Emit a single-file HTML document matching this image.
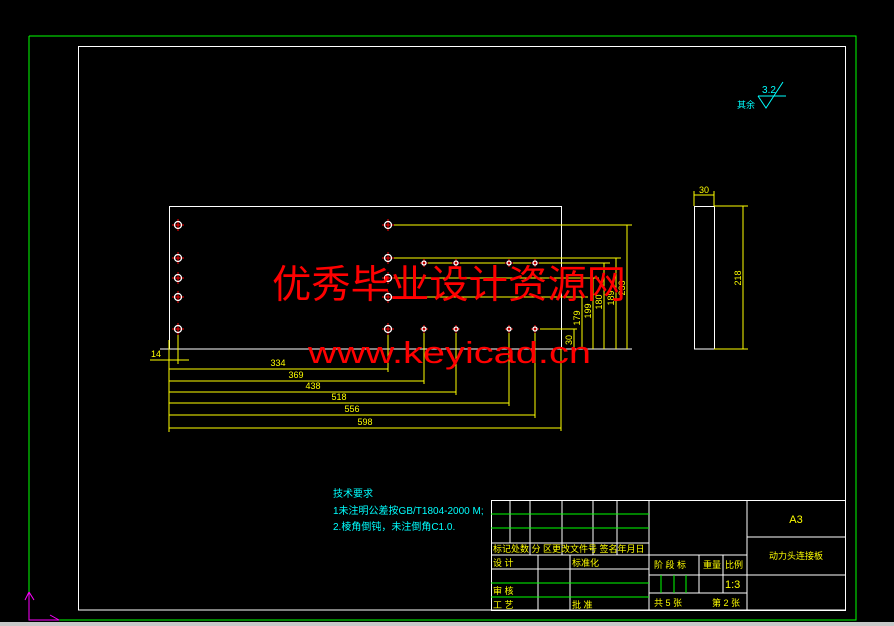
<!DOCTYPE html>
<html><head><meta charset="utf-8"><style>
html,body{margin:0;padding:0;background:#000;width:894px;height:626px;overflow:hidden}
svg{display:block}
text{font-family:"Liberation Sans","Noto Sans CJK SC",sans-serif}
</style></head><body>
<svg width="894" height="626" viewBox="0 0 894 626" xmlns="http://www.w3.org/2000/svg">
<rect x="0" y="0" width="894" height="626" fill="#000"/>
<rect x="0" y="622" width="894" height="4" fill="#c8c8c8"/>
<g shape-rendering="crispEdges">
<polyline points="29,36 856,36 856,620 59,620" fill="none" stroke="#00ff00" stroke-width="1"/>
<line x1="29" y1="36" x2="29" y2="592" stroke="#00ff00"/>
<rect x="78.5" y="46.5" width="767" height="563.5" fill="none" stroke="#fff"/>
</g>
<g stroke="#ff00ff" fill="none">
<polyline points="29,592 29,620 59,620"/>
<line x1="29" y1="592" x2="25" y2="600"/><line x1="29" y1="592" x2="34" y2="600"/>
<line x1="59" y1="620" x2="50" y2="615"/>
</g>
<g stroke="#fff" fill="none" shape-rendering="crispEdges">
<rect x="169.5" y="206.5" width="392" height="142.5"/>
<line x1="160" y1="349" x2="632" y2="349"/>
</g>
<g stroke="#ffff00" fill="none" stroke-width="1" shape-rendering="crispEdges">
<line x1="394" y1="225" x2="632" y2="225"/>
<line x1="394" y1="258" x2="621" y2="258"/>
<line x1="428" y1="263" x2="610" y2="263"/>
<line x1="394" y1="278" x2="599" y2="278"/>
<line x1="394" y1="297" x2="588" y2="297"/>
<line x1="540" y1="329" x2="577" y2="329"/>
<line x1="574" y1="329" x2="574" y2="349"/>
<line x1="582" y1="297" x2="582" y2="349"/>
<line x1="593" y1="278" x2="593" y2="349"/>
<line x1="604" y1="263" x2="604" y2="349"/>
<line x1="616" y1="258" x2="616" y2="349"/>
<line x1="627" y1="225" x2="627" y2="349"/>
<line x1="169" y1="340" x2="169" y2="432"/>
<line x1="178" y1="335" x2="178" y2="364"/>
<line x1="388" y1="335" x2="388" y2="372"/>
<line x1="424" y1="333" x2="424" y2="384"/>
<line x1="456" y1="333" x2="456" y2="395"/>
<line x1="509" y1="333" x2="509" y2="406"/>
<line x1="535" y1="333" x2="535" y2="418"/>
<line x1="561" y1="349" x2="561" y2="431"/>
<line x1="150" y1="360" x2="189" y2="360"/>
<line x1="169" y1="369" x2="388" y2="369"/>
<line x1="169" y1="381" x2="424" y2="381"/>
<line x1="169" y1="392" x2="456" y2="392"/>
<line x1="169" y1="403" x2="509" y2="403"/>
<line x1="169" y1="415" x2="535" y2="415"/>
<line x1="169" y1="428" x2="561" y2="428"/>
</g>
<g fill="#ffff00" font-size="9" text-anchor="middle">
<text x="156" y="357">14</text>
<text x="278" y="366">334</text>
<text x="296" y="378">369</text>
<text x="313" y="389">438</text>
<text x="339" y="400">518</text>
<text x="352" y="412">556</text>
<text x="365" y="425">598</text>
<text transform="translate(572,340) rotate(-90)">30</text>
<text transform="translate(580,318) rotate(-90)">179</text>
<text transform="translate(591,311) rotate(-90)">199</text>
<text transform="translate(602,302) rotate(-90)">180</text>
<text transform="translate(614,298) rotate(-90)">189</text>
<text transform="translate(625,288) rotate(-90)">233</text>
</g>
<g stroke="#ff0000" stroke-width="1" fill="none" shape-rendering="crispEdges">
<line x1="172" y1="225" x2="184" y2="225"/><line x1="178" y1="219" x2="178" y2="231"/>
<line x1="172" y1="258" x2="184" y2="258"/><line x1="178" y1="252" x2="178" y2="264"/>
<line x1="172" y1="278" x2="184" y2="278"/><line x1="178" y1="272" x2="178" y2="284"/>
<line x1="172" y1="297" x2="184" y2="297"/><line x1="178" y1="291" x2="178" y2="303"/>
<line x1="172" y1="329" x2="184" y2="329"/><line x1="178" y1="323" x2="178" y2="335"/>
<line x1="382" y1="225" x2="394" y2="225"/><line x1="388" y1="219" x2="388" y2="231"/>
<line x1="382" y1="258" x2="394" y2="258"/><line x1="388" y1="252" x2="388" y2="264"/>
<line x1="382" y1="278" x2="394" y2="278"/><line x1="388" y1="272" x2="388" y2="284"/>
<line x1="382" y1="297" x2="394" y2="297"/><line x1="388" y1="291" x2="388" y2="303"/>
<line x1="382" y1="329" x2="394" y2="329"/><line x1="388" y1="323" x2="388" y2="335"/>
<line x1="420" y1="263" x2="428" y2="263"/><line x1="424" y1="259" x2="424" y2="267"/>
<line x1="452" y1="263" x2="460" y2="263"/><line x1="456" y1="259" x2="456" y2="267"/>
<line x1="505" y1="263" x2="513" y2="263"/><line x1="509" y1="259" x2="509" y2="267"/>
<line x1="531" y1="263" x2="539" y2="263"/><line x1="535" y1="259" x2="535" y2="267"/>
<line x1="420" y1="329" x2="428" y2="329"/><line x1="424" y1="325" x2="424" y2="333"/>
<line x1="452" y1="329" x2="460" y2="329"/><line x1="456" y1="325" x2="456" y2="333"/>
<line x1="505" y1="329" x2="513" y2="329"/><line x1="509" y1="325" x2="509" y2="333"/>
<line x1="531" y1="329" x2="539" y2="329"/><line x1="535" y1="325" x2="535" y2="333"/>
</g>
<g fill="none" stroke="#fff" stroke-width="1.3">
<circle cx="178" cy="225" r="3.5"/><circle cx="178" cy="258" r="3.5"/><circle cx="178" cy="278" r="3.5"/><circle cx="178" cy="297" r="3.5"/><circle cx="178" cy="329" r="3.5"/>
<circle cx="388" cy="225" r="3.5"/><circle cx="388" cy="258" r="3.5"/><circle cx="388" cy="278" r="3.5"/><circle cx="388" cy="297" r="3.5"/><circle cx="388" cy="329" r="3.5"/>
<circle cx="424" cy="263" r="2"/><circle cx="456" cy="263" r="2"/><circle cx="509" cy="263" r="2"/><circle cx="535" cy="263" r="2"/>
<circle cx="424" cy="329" r="2"/><circle cx="456" cy="329" r="2"/><circle cx="509" cy="329" r="2"/><circle cx="535" cy="329" r="2"/>
</g>
<g fill="none" shape-rendering="crispEdges">
<rect x="694.5" y="206.5" width="20" height="142.5" stroke="#fff"/>
<g stroke="#ffff00">
<line x1="694" y1="191" x2="694" y2="206"/><line x1="714" y1="191" x2="714" y2="206"/>
<line x1="694" y1="195" x2="714" y2="195"/>
<line x1="714" y1="206" x2="748" y2="206"/><line x1="714" y1="349" x2="748" y2="349"/>
<line x1="743" y1="206" x2="743" y2="349"/>
</g>
</g>
<text x="704" y="193" fill="#ffff00" font-size="9" text-anchor="middle">30</text>
<text transform="translate(741,278) rotate(-90)" fill="#ffff00" font-size="9" text-anchor="middle">218</text>
<g stroke="#00ffff" fill="none">
<polyline points="758,96 786,96"/>
<polyline points="758,96 766,108 783,82"/>
</g>
<text x="769" y="93" fill="#00ffff" font-size="10" text-anchor="middle">3.2</text>
<text x="746" y="108" fill="#00ffff" font-size="9" text-anchor="middle">其余</text>
<text x="272" y="298" fill="#ff0000" font-size="39" textLength="354" lengthAdjust="spacingAndGlyphs" font-family="'Noto Serif CJK SC','Noto Sans CJK SC',serif">优秀毕业设计资源网</text>
<text x="308" y="363" fill="#ff0000" font-size="31" textLength="283" lengthAdjust="spacingAndGlyphs" font-family="'Liberation Serif',serif">www.keyicad.cn</text>
<g fill="#00ffff" font-size="10">
<text x="333" y="497">技术要求</text>
<text x="333" y="514">1未注明公差按GB/T1804-2000 M;</text>
<text x="333" y="530">2.棱角倒钝，未注倒角C1.0.</text>
</g>
<g stroke="#fff" fill="none" shape-rendering="crispEdges">
<rect x="491.5" y="500.5" width="354" height="110"/>
<line x1="649" y1="500" x2="649" y2="610"/>
<line x1="747" y1="500" x2="747" y2="610"/>
<line x1="747" y1="537" x2="845" y2="537"/>
<line x1="747" y1="575" x2="845" y2="575"/>
<line x1="491" y1="543" x2="649" y2="543"/>
<line x1="491" y1="555" x2="747" y2="555"/>
<line x1="491" y1="569" x2="649" y2="569"/>
<line x1="649" y1="575" x2="747" y2="575"/>
<line x1="649" y1="593" x2="747" y2="593"/>
<line x1="510" y1="500" x2="510" y2="543"/>
<line x1="530" y1="500" x2="530" y2="555"/>
<line x1="562" y1="500" x2="562" y2="555"/>
<line x1="593" y1="500" x2="593" y2="555"/>
<line x1="617" y1="500" x2="617" y2="555"/>
<line x1="538" y1="555" x2="538" y2="610"/>
<line x1="570" y1="555" x2="570" y2="610"/>
<line x1="699" y1="555" x2="699" y2="593"/>
<line x1="723" y1="555" x2="723" y2="593"/>
</g>
<g stroke="#00ff00" shape-rendering="crispEdges">
<line x1="491" y1="514" x2="649" y2="514"/>
<line x1="491" y1="528" x2="649" y2="528"/>
<line x1="491" y1="583" x2="649" y2="583"/>
<line x1="491" y1="597" x2="649" y2="597"/>
<line x1="661" y1="575" x2="661" y2="593"/>
<line x1="674" y1="575" x2="674" y2="593"/>
<line x1="686" y1="575" x2="686" y2="593"/>
</g>
<g fill="#ffff00" font-size="9">
<text x="493" y="552">标记处数 分 区更改文件号 签名年月日</text>
<text x="493" y="566">设 计</text>
<text x="572" y="566">标准化</text>
<text x="493" y="594">审 核</text>
<text x="493" y="608">工 艺</text>
<text x="572" y="608">批 准</text>
<text x="654" y="568">阶 段 标</text>
<text x="703" y="568">重量</text>
<text x="725" y="568">比例</text>
<text x="725" y="588" font-size="11">1:3</text>
<text x="654" y="606">共 5 张</text>
<text x="712" y="606">第 2 张</text>
<text x="796" y="523" font-size="11" text-anchor="middle">A3</text>
<text x="796" y="559" text-anchor="middle">动力头连接板</text>
</g>
</svg>
</body></html>
